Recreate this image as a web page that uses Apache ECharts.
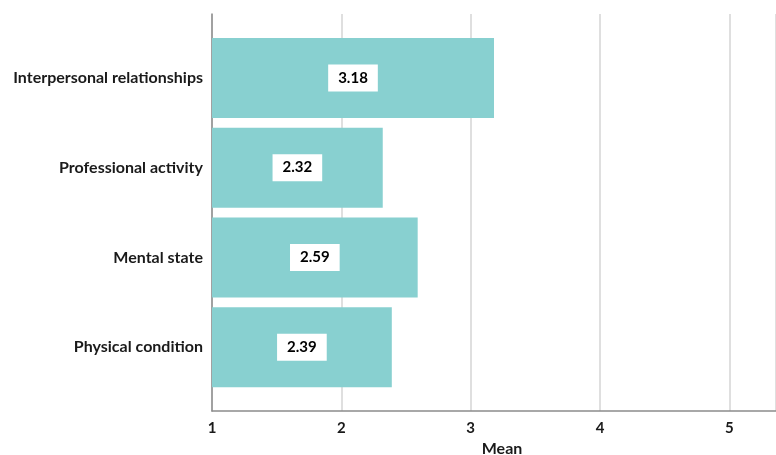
<!DOCTYPE html>
<html>
<head>
<meta charset="utf-8">
<script src="https://cdn.jsdelivr.net/npm/echarts@6/dist/echarts.min.js"></script>
<style>
  html, body { margin: 0; padding: 0; background: #fff; }
  #chart { width: 776px; height: 455px; }
</style>
</head>
<body>
<div id="chart"></div>
<script>
const categories = ['Interpersonal relationships', 'Professional activity', 'Mental state', 'Physical condition'];
const means = [3.18, 2.32, 2.59, 2.39];
const axisMin = 1;
const axisMax = 5.36;

const chart = echarts.init(document.getElementById('chart'));
const fontFamily = 'Lato, "Open Sans", sans-serif';

const option = {
    animation: false,
    grid: [
        // frame grid: axis lines, gridlines and tick labels
        { left: 212, top: 14, right: 0, height: 397, outerBoundsMode: 'none' },
        // bar grid, inset from the frame
        { left: 212, top: 33, right: 0, height: 359, outerBoundsMode: 'none' }
    ],
    xAxis: [
        {
            gridIndex: 0,
            type: 'value',
            min: axisMin,
            max: axisMax,
            interval: 1,
            name: 'Mean',
            nameLocation: 'middle',
            nameGap: 28,
            nameTextStyle: { fontFamily, fontWeight: 'bold', fontSize: 16, color: '#1a1a1a', padding: [0, 0, 0, 16] },
            axisLine: { show: true, lineStyle: { color: '#8c8c8c', width: 1.5 } },
            axisTick: { show: false },
            axisLabel: { showMaxLabel: false, margin: 10, fontFamily, fontWeight: 'bold', fontSize: 15, color: '#1a1a1a' },
            splitLine: { show: true, lineStyle: { color: '#d4d4d4', width: 1.5 } }
        },
        {
            gridIndex: 1,
            type: 'value',
            min: axisMin,
            max: axisMax,
            startValue: axisMin,
            show: false
        }
    ],
    yAxis: [
        {
            gridIndex: 0,
            type: 'value',
            min: 0,
            max: 1,
            axisLine: { show: true, lineStyle: { color: '#8c8c8c', width: 1.5 } },
            axisTick: { show: false },
            axisLabel: { show: false },
            splitLine: { show: false }
        },
        {
            gridIndex: 1,
            type: 'category',
            inverse: true,
            data: categories,
            axisLine: { show: false },
            axisTick: { show: false },
            axisLabel: { margin: 9, fontFamily, fontWeight: 'bold', fontSize: 16, color: '#1a1a1a' }
        }
    ],
    series: [{
        type: 'bar',
        xAxisIndex: 1,
        yAxisIndex: 1,
        data: means,
        barWidth: 80,
        clip: true,
        itemStyle: { color: '#88d0d0' },
        label: {
            show: true,
            position: 'inside',
            backgroundColor: '#fff',
            padding: [6, 10],
            fontFamily,
            fontWeight: 'bold',
            fontSize: 15,
            color: '#000',
            formatter: p => p.value.toFixed(2)
        }
    }]
};

chart.setOption(option);
</script>
</body>
</html>
